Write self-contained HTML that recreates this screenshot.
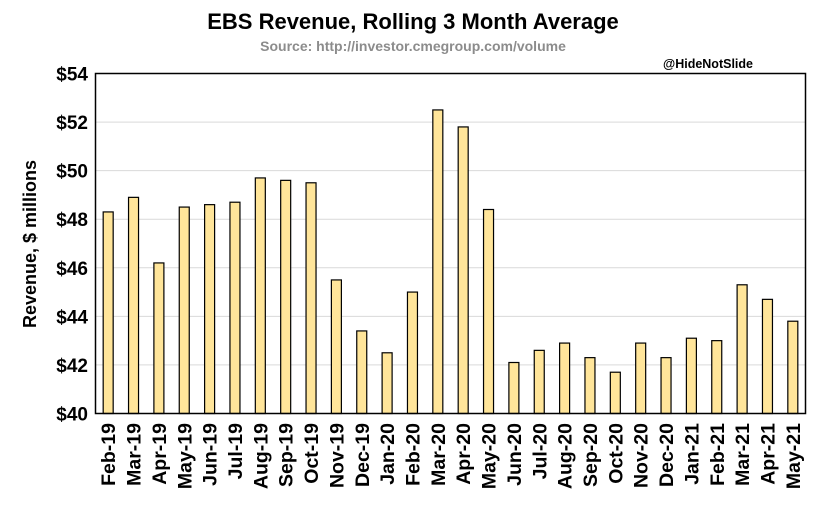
<!DOCTYPE html>
<html><head><meta charset="utf-8"><style>
body{margin:0;background:#fff;font-family:"Liberation Sans","DejaVu Sans",sans-serif}
</style></head><body>
<svg width="827" height="525" id="c">
<text x="413" y="29" text-anchor="middle" font-size="22" font-weight="bold">EBS Revenue, Rolling 3 Month Average</text>
<text x="413" y="51" text-anchor="middle" font-size="14" font-weight="bold" fill="#8c8c8c">Source: http://investor.cmegroup.com/volume</text>
<text x="708" y="68" text-anchor="middle" font-size="12.5" font-weight="bold">@HideNotSlide</text>
<text transform="translate(36,244) rotate(-90)" text-anchor="middle" font-size="18" font-weight="bold">Revenue, $ millions</text>
<g id="grid"></g><g id="bars"></g><g id="yt"></g><g id="xt"></g>
<rect x="95.5" y="73.5" width="710" height="340" fill="none" stroke="#000" stroke-width="1.5"/>
</svg>
<script>
const categories=["Feb-19","Mar-19","Apr-19","May-19","Jun-19","Jul-19","Aug-19","Sep-19","Oct-19","Nov-19","Dec-19","Jan-20","Feb-20","Mar-20","Apr-20","May-20","Jun-20","Jul-20","Aug-20","Sep-20","Oct-20","Nov-20","Dec-20","Jan-21","Feb-21","Mar-21","Apr-21","May-21"];
const revenue=[48.3,48.9,46.2,48.5,48.6,48.7,49.7,49.6,49.5,45.5,43.4,42.5,45.0,52.5,51.8,48.4,42.1,42.6,42.9,42.3,41.7,42.9,42.3,43.1,43.0,45.3,44.7,43.8];
const yTicks=[40,42,44,46,48,50,52,54];
const ns="http://www.w3.org/2000/svg";
const L=95.5,R=805.5,T=73.5,B=413.5,ymin=40,ymax=54;
const y=v=>B-(v-ymin)/(ymax-ymin)*(B-T);
const step=(R-L)/categories.length;
const x=i=>L+step*(i+0.5);
function mk(t,p,parent){const e=document.createElementNS(ns,t);for(const k in p)e.setAttribute(k,p[k]);document.getElementById(parent).appendChild(e);return e;}
yTicks.forEach(v=>{
  if(v>ymin&&v<ymax){const g=mk('line',{x1:L,x2:R,y1:y(v),y2:y(v),stroke:'#d9d9d9','stroke-width':1},'grid');
  
  }
  const t=mk('text',{x:88,y:y(v)+7,'text-anchor':'end','font-size':19,'font-weight':'bold'},'yt');
  t.textContent='$'+v;
  
  
});
revenue.forEach((v,i)=>{
  const r=mk('rect',{x:x(i)-5,y:y(v),width:10,height:B-y(v),fill:'#ffe59a',stroke:'#000','stroke-width':1.2},'bars');
  
  
});
categories.forEach((c,i)=>{
  const t=mk('text',{transform:`translate(${x(i)+7},${423}) rotate(-90)`,'text-anchor':'end','font-size':19.5,'font-weight':'bold'},'xt');
  t.textContent=c;
  
  
});
</script>
</body></html>
